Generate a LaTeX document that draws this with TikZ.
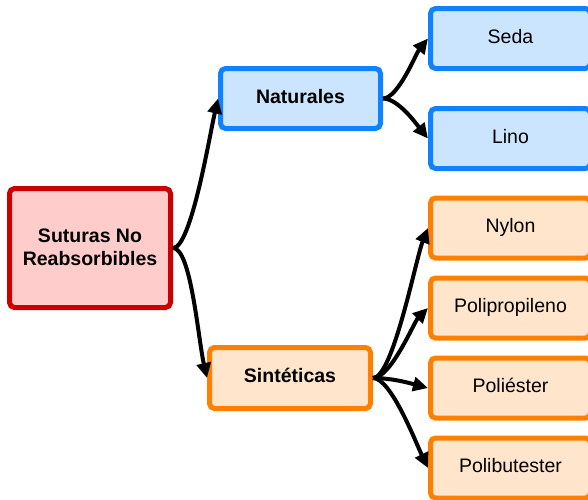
\documentclass[tikz,border=0pt]{standalone}
\usepackage{fontspec}
\setmainfont{Liberation Sans}
\usetikzlibrary{arrows.meta}
\definecolor{rootline}{RGB}{204,0,0}
\definecolor{rootfill}{RGB}{255,204,204}
\definecolor{natline}{RGB}{16,130,255}
\definecolor{natfill}{RGB}{204,229,255}
\definecolor{synline}{RGB}{255,128,0}
\definecolor{synfill}{RGB}{255,229,204}
\tikzset{
  box/.style={draw, rectangle, rounded corners=5pt, line width=5pt, inner sep=0pt,
    minimum width=160pt, minimum height=60pt, align=center,
    text height=14pt, text depth=5pt,
    font=\fontsize{19.5}{23.5}\selectfont},
  boldtext/.style={font=\fontsize{19.5}{23.5}\selectfont\bfseries},
  rootbox/.style={draw=rootline, fill=rootfill, rectangle, rounded corners=5pt,
    line width=5pt, inner sep=0pt, align=center, boldtext,
    minimum width=161pt, minimum height=119pt},
  natbox/.style={box, draw=natline, fill=natfill},
  synbox/.style={box, draw=synline, fill=synfill},
  link/.style={line width=4pt, -{Triangle[length=15pt,width=14pt]}}
}
\begin{document}
\begin{tikzpicture}[x=1pt,y=-1pt]
\clip (0,0) rectangle (588,499);
\useasboundingbox (0,0) rectangle (588,499);
% root
\node[rootbox] (root) at (90,248) {\raisebox{2pt}{Suturas No}\\\raisebox{2pt}{Reabsorbibles}};
% second level
\node[natbox, boldtext] (nat) at (300.5,98.5) {Naturales};
\node[synbox, boldtext, minimum width=161pt, minimum height=61pt] (syn) at (290,378) {Sintéticas};
% leaves
\node[natbox] (seda) at (510.5,38.5) {Seda};
\node[natbox] (lino) at (510.5,138.5) {Lino};
\node[synbox] (nylon) at (510.5,228) {Nylon};
\node[synbox] (polip) at (510.5,308) {Polipropileno};
\node[synbox] (poli) at (510.5,388) {Poliéster};
\node[synbox] (polib) at (510.5,468) {Polibutester};
% connectors
\draw[link] (root.east) .. controls +(18,0) and +(-9,40) .. (nat.west);
\draw[link] (root.east) .. controls +(18,0) and +(-9,-40) .. (syn.west);
\draw[link] (nat.east) .. controls +(15,0) and +(-12,15) .. (seda.west);
\draw[link] (nat.east) .. controls +(15,0) and +(-12,-15) .. (lino.west);
\draw[link] (syn.east) .. controls +(20,0) and +(-12,30) .. (nylon.west);
\draw[link] (syn.east) .. controls +(18,0) and +(-14,14) .. (polip.west);
\draw[link] (syn.east) .. controls +(20,0) and +(-15,-4) .. (poli.west);
\draw[link] (syn.east) .. controls +(18,0) and +(-12,-25) .. (polib.west);
\end{tikzpicture}
\end{document}
